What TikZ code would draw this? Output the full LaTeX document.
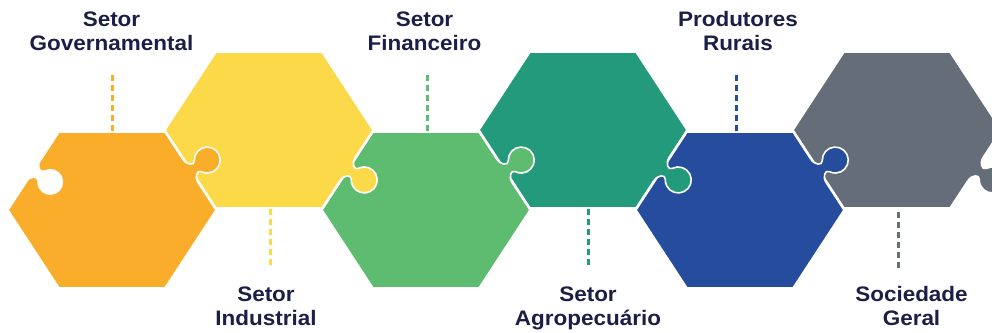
\documentclass[tikz,border=0pt]{standalone}
\usepackage{fontspec}
\setmainfont{Liberation Sans}

\definecolor{govorange}{RGB}{250,173,42}
\definecolor{indyellow}{RGB}{252,217,72}
\definecolor{fingreen}{RGB}{93,188,112}
\definecolor{agroteal}{RGB}{36,154,124}
\definecolor{ruralblue}{RGB}{38,76,158}
\definecolor{socgrey}{RGB}{101,110,120}
\definecolor{textnavy}{RGB}{27,30,70}

% one hexagonal piece: #1 centre, #2 colour
\newcommand{\hexpiece}[2]{%
  \filldraw[fill=#2, seam] #1 ++(-104,0) -- ++(51,78) -- ++(106,0)
    -- ++(51,-78) -- ++(-51,-78) -- ++(-106,0) -- cycle;}

% outline of a tab, edge along x, bulging to +y
\newcommand{\tabcurve}{(-14,0) .. controls (-7,0) and (-2.2,6.2) .. (-6.5,8.74)
  arc[start angle=240, end angle=-60, radius=13]
  .. controls (2.2,6.2) and (7,0) .. (14,0)}

% tab sticking out of an edge: #1 edge midpoint, #2 edge angle, #3 colour
\newcommand{\puzzletab}[3]{%
  \begin{scope}[shift={#1}, rotate=#2]
    \fill[#3] (-14,-2) -- \tabcurve -- (14,-2) -- cycle;
    \draw[seam] \tabcurve;
  \end{scope}}

% empty socket cut into an edge
\newcommand{\puzzlehole}[2]{%
  \begin{scope}[shift={#1}, rotate=#2]
    \fill[white] (-14,-2) -- \tabcurve -- (14,-2) -- cycle;
  \end{scope}}

\begin{document}
\begin{tikzpicture}[x=1pt, y=1pt]
\tikzstyle{seam} = [draw=white, line width=1.6pt, line join=round]
\tikzstyle{sectortext} = [text=textnavy, font=\fontsize{21}{24}\selectfont\bfseries,
align=center, inner sep=0pt, anchor=north, xscale=1.07, transform shape]
\tikzstyle{dashline} = [line width=3pt, dash pattern=on 6pt off 4pt]

\useasboundingbox (0,0) rectangle (992,-332);
\clip (0,0) rectangle (992,-332);

% pieces, low and high in turn
\hexpiece{(112,-210)}{govorange}
\hexpiece{(269,-130)}{indyellow}
\hexpiece{(426,-210)}{fingreen}
\hexpiece{(583,-130)}{agroteal}
\hexpiece{(740,-210)}{ruralblue}
\hexpiece{(897,-130)}{socgrey}

% tabs into the next piece
\puzzlehole{(33.5,-171)}{-123.18}
\puzzletab{(190.5,-171)}{-56.82}{govorange}
\puzzletab{(347.5,-169)}{-123.18}{indyellow}
\puzzletab{(504.5,-171)}{-56.82}{fingreen}
\puzzletab{(661.5,-169)}{-123.18}{agroteal}
\puzzletab{(818.5,-171)}{-56.82}{ruralblue}
\puzzletab{(975.5,-169)}{-123.18}{socgrey}

% labels
\node[sectortext] (gov) at (111.5,-11.5) {Setor\\Governamental};
\node[sectortext] (fin) at (424.5,-11.5) {Setor\\Financeiro};
\node[sectortext] (rur) at (738,-11.5) {Produtores\\Rurais};
\node[sectortext] (ind) at (266,-286.5) {Setor\\Industrial};
\node[sectortext] (agro) at (588,-286.5) {Setor\\Agropecuário};
\node[sectortext] (soc) at (911.5,-286.5) {Sociedade\\Geral};

% dashed leaders
\coordinate (govtop) at (112,-131);   \coordinate (govtip) at (112,-75);
\coordinate (fintop) at (427,-131);   \coordinate (fintip) at (427,-75);
\coordinate (rurtop) at (736,-131);   \coordinate (rurtip) at (736,-75);
\coordinate (indtop) at (270,-209);   \coordinate (indtip) at (270,-265);
\coordinate (agrotop) at (588,-209);  \coordinate (agrotip) at (588,-265);
\coordinate (soctop) at (898,-209);   \coordinate (soctip) at (898,-268);
\draw[dashline, govorange] (govtip) -- (govtop);
\draw[dashline, fingreen] (fintip) -- (fintop);
\draw[dashline, ruralblue] (rurtip) -- (rurtop);
\draw[dashline, indyellow] (indtip) -- (indtop);
\draw[dashline, agroteal] (agrotip) -- (agrotop);
\draw[dashline, socgrey] (soctip) -- (soctop);
\end{tikzpicture}
\end{document}
